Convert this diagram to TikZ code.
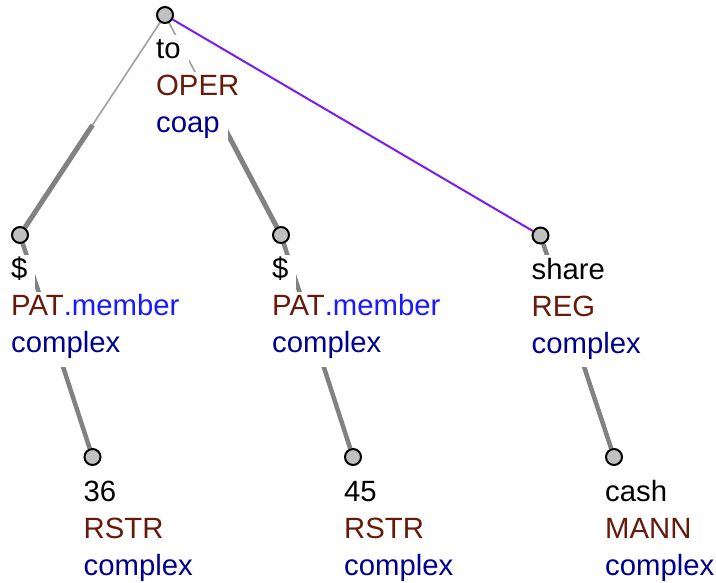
\documentclass[tikz,border=0pt]{standalone}
\usepackage{fontspec}
\setmainfont{Liberation Sans}
\usetikzlibrary{calc}
\definecolor{fun}{RGB}{102,26,10}
\definecolor{ntype}{RGB}{0,0,144}
\definecolor{subf}{RGB}{26,26,255}
\definecolor{coordc}{RGB}{122,28,240}
\definecolor{thinE}{RGB}{160,160,160}
\definecolor{thickE}{RGB}{130,130,130}
\definecolor{nfill}{RGB}{192,192,192}
\pgfdeclarelayer{edges}
\pgfsetlayers{edges,main}
\newcommand\lblpad{\kern8pt}
\begin{document}
\begin{tikzpicture}[x=1pt,y=-1pt,
  tnode/.style={circle,draw=black,line width=2pt,fill=nfill,minimum size=16pt,inner sep=0pt},
  lbl/.style={anchor=base west,fill=white,inner xsep=0pt,inner ysep=0pt,text height=24pt,text depth=14pt,font=\fontsize{29.3}{34}\selectfont},
  thinedge/.style={draw=thinE,line width=1.6pt},
  thickedge/.style={draw=thickE,line width=5pt},
  coordedge/.style={draw=coordc,line width=2pt}]
\useasboundingbox (0,0) rectangle (716,582);

% labels
\node[lbl] (rt1) at (156,58.8) {to\lblpad};
\node[lbl,text=fun] (rt2) at (156,95.8) {OPER\lblpad};
\node[lbl,text=ntype] (rt3) at (156,132.8) {coap\lblpad};

\node[lbl] (lt1) at (11,278.8) {\$\lblpad};
\node[lbl] (lt2) at (11,315.8) {\textcolor{fun}{PAT}\textcolor{subf}{.member}\lblpad};
\node[lbl,text=ntype] (lt3) at (11,352.8) {complex\lblpad};

\node[lbl] (mt1) at (272,278.8) {\$\lblpad};
\node[lbl] (mt2) at (272,315.8) {\textcolor{fun}{PAT}\textcolor{subf}{.member}\lblpad};
\node[lbl,text=ntype] (mt3) at (272,352.8) {complex\lblpad};

\node[lbl] (st1) at (531.5,279.3) {share\lblpad};
\node[lbl,text=fun] (st2) at (531.5,316.3) {REG\lblpad};
\node[lbl,text=ntype] (st3) at (531.5,353.3) {complex\lblpad};

\node[lbl] (at1) at (83.5,501.3) {36\lblpad};
\node[lbl,text=fun] (at2) at (83.5,538.3) {RSTR\lblpad};
\node[lbl,text=ntype] (at3) at (83.5,575.3) {complex\lblpad};

\node[lbl] (bt1) at (344,501.3) {45\lblpad};
\node[lbl,text=fun] (bt2) at (344,538.3) {RSTR\lblpad};
\node[lbl,text=ntype] (bt3) at (344,575.3) {complex\lblpad};

\node[lbl] (ct1) at (605,501.3) {cash\lblpad};
\node[lbl,text=fun] (ct2) at (605,538.3) {MANN\lblpad};
\node[lbl,text=ntype] (ct3) at (605,575.3) {complex\lblpad};

% tree nodes
\node[tnode] (r) at (165,15) {};
\node[tnode] (l) at (20,235) {};
\node[tnode] (m) at (281,235) {};
\node[tnode] (s) at (540.5,235.5) {};
\node[tnode] (a) at (92.5,457) {};
\node[tnode] (b) at (353,457) {};
\node[tnode] (c) at (614,457) {};

\coordinate (rlmid) at ($(r)!0.5!(l)$);
\coordinate (rmmid) at ($(r)!0.5!(m)$);

\begin{pgfonlayer}{edges}
\draw[thinedge] (r) -- (rlmid);
\draw[thickedge] (rlmid) -- (l);
\draw[thinedge] (r) -- (rmmid);
\draw[thickedge] (rmmid) -- (m);
\draw[coordedge] (r) -- (s);
\draw[thickedge,line width=4.5pt] (l) -- (a);
\draw[thickedge,line width=4.5pt] (m) -- (b);
\draw[thickedge,line width=4.5pt] (s) -- (c);
\end{pgfonlayer}
\end{tikzpicture}
\end{document}
